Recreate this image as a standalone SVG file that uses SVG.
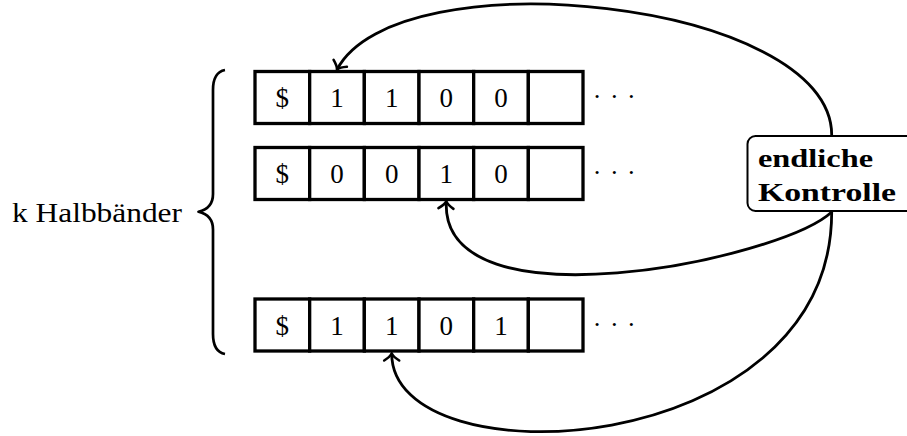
<svg xmlns="http://www.w3.org/2000/svg" width="907" height="436" viewBox="0 0 907 436">
  <style>
    .cell { fill: #ffffff; stroke: #000000; stroke-width: 3.3; }
    .sym { font-family: "Liberation Serif", "Times New Roman", serif; font-size: 27px; text-anchor: middle; fill: #000000; }
    .dots { font-family: "Liberation Serif", "Times New Roman", serif; font-size: 26px; letter-spacing: 8.5px; fill: #000000; }
    .label { font-family: "Liberation Serif", "Times New Roman", serif; font-size: 28px; fill: #000000; }
    .bold { font-family: "Liberation Serif", "Times New Roman", serif; font-size: 26px; font-weight: bold; fill: #000000; }
    .box { fill: #ffffff; stroke: #000000; stroke-width: 2; }
    .edge { fill: none; stroke: #000000; stroke-width: 2.8; }
    .brace { fill: none; stroke: #000000; stroke-width: 2.7; stroke-linejoin: round; }
  </style>
  <defs>
    <marker id="arrow" viewBox="-10 -10 14 20" markerWidth="14" markerHeight="20" refX="0" refY="0" orient="auto" markerUnits="userSpaceOnUse">
      <path d="M -7,-7.5 C -4.5,-3.5 -1.8,-0.9 0,0 C -1.8,0.9 -4.5,3.5 -7,7.5" fill="none" stroke="#000000" stroke-width="2.6" stroke-linecap="round"/>
    </marker>
  </defs>

  <g id="label-k">
    <text class="label" x="12" y="222" textLength="170" lengthAdjust="spacingAndGlyphs">k Halbbänder</text>
    <path class="brace" d="M 225,70 C 217,71.5 213,78 213,90 L 213,194 C 213,204 208,209.5 198.5,211.8 C 208,214 213,219.5 213,229.5 L 213,334 C 213,346 217,352.5 225,354"/>
  </g>

  <g id="tape1">
    <rect class="cell" x="255" y="71.5" width="54.67" height="52"/>
    <rect class="cell" x="309.67" y="71.5" width="54.67" height="52"/>
    <rect class="cell" x="364.33" y="71.5" width="54.67" height="52"/>
    <rect class="cell" x="419" y="71.5" width="54.67" height="52"/>
    <rect class="cell" x="473.67" y="71.5" width="54.67" height="52"/>
    <rect class="cell" x="528.33" y="71.5" width="54.67" height="52"/>
    <text class="sym" x="282.3" y="107.3">$</text>
    <text class="sym" x="337" y="107.3">1</text>
    <text class="sym" x="391.7" y="107.3">1</text>
    <text class="sym" x="446.3" y="107.3">0</text>
    <text class="sym" x="501" y="107.3">0</text>
    <text class="dots" x="592.75" y="105.3">···</text>
  </g>

  <g id="tape2">
    <rect class="cell" x="255" y="147.5" width="54.67" height="52"/>
    <rect class="cell" x="309.67" y="147.5" width="54.67" height="52"/>
    <rect class="cell" x="364.33" y="147.5" width="54.67" height="52"/>
    <rect class="cell" x="419" y="147.5" width="54.67" height="52"/>
    <rect class="cell" x="473.67" y="147.5" width="54.67" height="52"/>
    <rect class="cell" x="528.33" y="147.5" width="54.67" height="52"/>
    <text class="sym" x="282.3" y="183.3">$</text>
    <text class="sym" x="337" y="183.3">0</text>
    <text class="sym" x="391.7" y="183.3">0</text>
    <text class="sym" x="446.3" y="183.3">1</text>
    <text class="sym" x="501" y="183.3">0</text>
    <text class="dots" x="592.75" y="181.3">···</text>
  </g>

  <g id="tape3">
    <rect class="cell" x="255" y="299" width="54.67" height="52"/>
    <rect class="cell" x="309.67" y="299" width="54.67" height="52"/>
    <rect class="cell" x="364.33" y="299" width="54.67" height="52"/>
    <rect class="cell" x="419" y="299" width="54.67" height="52"/>
    <rect class="cell" x="473.67" y="299" width="54.67" height="52"/>
    <rect class="cell" x="528.33" y="299" width="54.67" height="52"/>
    <text class="sym" x="282.3" y="334.8">$</text>
    <text class="sym" x="337" y="334.8">1</text>
    <text class="sym" x="391.7" y="334.8">1</text>
    <text class="sym" x="446.3" y="334.8">0</text>
    <text class="sym" x="501" y="334.8">1</text>
    <text class="dots" x="592.75" y="332.8">···</text>
  </g>

  <g id="connectors">
    <path class="edge" marker-end="url(#arrow)" d="M 831.7,135 C 831.7,0 397,-45 337,69.5"/>
    <path class="edge" marker-end="url(#arrow)" d="M 831.7,212 C 780,260 440,330 446.3,201.5"/>
    <path class="edge" marker-end="url(#arrow)" d="M 831.7,212 C 831.7,462 391.7,483 391.7,353.5"/>
  </g>

  <g id="control">
    <rect class="box" x="747.5" y="136" width="175" height="75" rx="8" ry="8"/>
    <text class="bold" x="758" y="166.5" textLength="115" lengthAdjust="spacingAndGlyphs">endliche</text>
    <text class="bold" x="758" y="200.5" textLength="138" lengthAdjust="spacingAndGlyphs">Kontrolle</text>
  </g>
</svg>
